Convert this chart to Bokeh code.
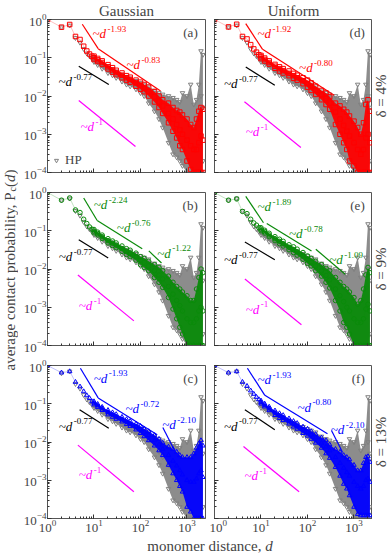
import math
from bokeh.plotting import figure
from bokeh.layouts import row, column
from bokeh.models import Range1d, Label, Legend, LegendItem, CustomJSTickFormatter
from bokeh.embed import file_html
from bokeh.resources import INLINE

FONT = "Liberation Serif"

# ---------------- data ----------------
D = [1, 2, 3, 4, 5, 6, 7, 8, 9, 10, 12, 15, 20, 25, 30, 40, 50, 60, 80, 100, 120, 150,
     200, 250, 300, 400, 500, 600, 700, 800, 1000, 1200, 1400, 1600, 1800, 2000, 2200]
BAND_D = D[9:]

# HP reference (grey), shared by all panels
HP_C = [1.0, 0.63, 0.70, 0.33, 0.25, 0.17, 0.13, 0.11, 0.095, 0.088,
        0.075, 0.062, 0.048, 0.042, 0.037, 0.030, 0.026, 0.023, 0.019, 0.016,
        0.014, 0.011, 0.008, 0.0055, 0.004, 0.0025, 0.0018, 0.0013, 0.001, 0.0009,
        0.0007, 0.0007, 0.0008, 0.001, 0.002, 0.01, 0.005]
HP_LO = [0.078, 0.065, 0.052, 0.040, 0.035, 0.030, 0.024, 0.020, 0.018, 0.015,
         0.012, 0.010, 0.0065, 0.004, 0.0025, 0.0015, 0.0006, 0.0003, 0.00025, 0.0002,
         0.00015, 0.0001, 0.0001, 0.0001, 0.0001, 0.0001, 0.0001, 0.0002]
HP_HI = [0.1, 0.085, 0.07, 0.056, 0.05, 0.044, 0.036, 0.032, 0.029, 0.025,
         0.022, 0.02, 0.018, 0.014, 0.012, 0.011, 0.01, 0.009, 0.008, 0.007,
         0.012, 0.01, 0.02, 0.006, 0.008, 0.02, 0.15, 0.12]

# Gaussian, delta = 4 %
GA4_C = [1.0, 0.63, 0.74, 0.36, 0.30, 0.20, 0.15, 0.125, 0.11, 0.10,
         0.088, 0.075, 0.058, 0.048, 0.041, 0.035, 0.030, 0.027, 0.022, 0.019,
         0.016, 0.013, 0.0095, 0.007, 0.0055, 0.0035, 0.0025, 0.0018, 0.0013, 0.001,
         0.0007, 0.0005, 0.0004, 0.0004, 0.0006, 0.0009, 0.0007]
GA4_LO = [0.09, 0.08, 0.067, 0.051, 0.042, 0.036, 0.030, 0.026, 0.023, 0.018,
          0.015, 0.013, 0.010, 0.007, 0.005, 0.0035, 0.002, 0.0012, 0.0008, 0.0005,
          0.0004, 0.0002, 0.00012, 0.0001, 0.0001, 0.0001, 0.0001, 0.0001]
GA4_HI = [0.11, 0.096, 0.083, 0.066, 0.055, 0.047, 0.040, 0.034, 0.031, 0.026,
          0.023, 0.020, 0.017, 0.013, 0.010, 0.008, 0.0065, 0.005, 0.0042, 0.0038,
          0.0032, 0.0025, 0.0018, 0.0015, 0.0025, 0.004, 0.005, 0.0045]

# Uniform, delta = 4 %
UN4_C = [1.0, 0.64, 0.75, 0.36, 0.31, 0.22, 0.17, 0.14, 0.12, 0.105,
         0.09, 0.075, 0.06, 0.052, 0.046, 0.039, 0.034, 0.030, 0.025, 0.021,
         0.018, 0.014, 0.011, 0.0085, 0.0065, 0.0038, 0.0025, 0.0017, 0.0012, 0.0009,
         0.0006, 0.0004, 0.0003, 0.0004, 0.0008, 0.001, 0.0006]
UN4_LO = [0.095, 0.082, 0.068, 0.053, 0.045, 0.040, 0.034, 0.029, 0.026, 0.021,
          0.017, 0.014, 0.011, 0.008, 0.006, 0.0045, 0.0018, 0.001, 0.0006, 0.0004,
          0.0002, 0.00015, 0.0001, 0.0001, 0.0001, 0.0001, 0.0001, 0.0001]
UN4_HI = [0.115, 0.098, 0.083, 0.067, 0.058, 0.052, 0.045, 0.039, 0.035, 0.030,
          0.026, 0.022, 0.018, 0.014, 0.012, 0.0095, 0.0065, 0.0055, 0.0045, 0.0038,
          0.003, 0.0022, 0.0015, 0.001, 0.002, 0.006, 0.008, 0.004]

# Gaussian, delta = 9 %
GA9_C = [1.0, 0.63, 0.72, 0.35, 0.30, 0.20, 0.155, 0.126, 0.11, 0.098,
         0.085, 0.07, 0.055, 0.047, 0.042, 0.034, 0.029, 0.026, 0.021, 0.017,
         0.015, 0.012, 0.009, 0.007, 0.0055, 0.0035, 0.0022, 0.0015, 0.0011, 0.0008,
         0.0005, 0.0004, 0.0004, 0.0005, 0.0008, 0.001, 0.0008]
GA9_LO = [0.088, 0.078, 0.063, 0.048, 0.041, 0.036, 0.029, 0.024, 0.021, 0.017,
          0.013, 0.011, 0.009, 0.006, 0.0045, 0.0033, 0.0018, 0.0009, 0.0005, 0.0003,
          0.0002, 0.0001, 0.0001, 0.0001, 0.0001, 0.0001, 0.0001, 0.0001]
GA9_HI = [0.108, 0.092, 0.077, 0.062, 0.054, 0.048, 0.040, 0.034, 0.031, 0.026,
          0.021, 0.019, 0.016, 0.013, 0.011, 0.009, 0.0065, 0.0045, 0.0035, 0.003,
          0.0025, 0.002, 0.0015, 0.0015, 0.003, 0.006, 0.01, 0.008]

# Uniform, delta = 9 %
UN9_C = [1.0, 0.63, 0.68, 0.32, 0.28, 0.20, 0.16, 0.14, 0.12, 0.11,
         0.095, 0.078, 0.062, 0.053, 0.046, 0.037, 0.032, 0.028, 0.022, 0.018,
         0.015, 0.012, 0.009, 0.0068, 0.0052, 0.003, 0.002, 0.0014, 0.001, 0.0008,
         0.0005, 0.0004, 0.0004, 0.0005, 0.0009, 0.0012, 0.0008]
UN9_LO = [0.1, 0.087, 0.07, 0.055, 0.046, 0.040, 0.032, 0.027, 0.023, 0.018,
          0.014, 0.012, 0.009, 0.0065, 0.0045, 0.0032, 0.0015, 0.0008, 0.0004, 0.0003,
          0.0002, 0.0001, 0.0001, 0.0001, 0.0001, 0.0001, 0.0001, 0.0001]
UN9_HI = [0.12, 0.103, 0.086, 0.07, 0.06, 0.053, 0.043, 0.038, 0.033, 0.027,
          0.022, 0.019, 0.016, 0.013, 0.0105, 0.009, 0.006, 0.0045, 0.0035, 0.003,
          0.0025, 0.0018, 0.0012, 0.0015, 0.003, 0.007, 0.011, 0.008]

# Gaussian, delta = 13 %
GA13_C = [1.0, 0.65, 0.70, 0.37, 0.28, 0.21, 0.165, 0.14, 0.115, 0.105,
          0.09, 0.075, 0.06, 0.052, 0.046, 0.039, 0.034, 0.030, 0.025, 0.021,
          0.018, 0.015, 0.011, 0.0085, 0.0065, 0.0045, 0.0032, 0.0024, 0.0018, 0.0014,
          0.001, 0.0009, 0.0009, 0.0011, 0.0015, 0.0018, 0.0012]
GA13_LO = [0.095, 0.082, 0.068, 0.052, 0.045, 0.040, 0.034, 0.029, 0.026, 0.021,
           0.017, 0.014, 0.011, 0.008, 0.006, 0.0045, 0.0025, 0.0015, 0.001, 0.0007,
           0.0005, 0.0002, 0.00015, 0.0001, 0.0001, 0.0001, 0.0001, 0.0001]
GA13_HI = [0.115, 0.098, 0.082, 0.068, 0.059, 0.053, 0.045, 0.039, 0.035, 0.030,
           0.026, 0.022, 0.019, 0.015, 0.012, 0.0095, 0.0075, 0.0065, 0.0055, 0.0045,
           0.004, 0.004, 0.004, 0.005, 0.007, 0.009, 0.011, 0.008]

# Uniform, delta = 13 %
UN13_C = [1.0, 0.65, 0.70, 0.37, 0.29, 0.22, 0.18, 0.15, 0.13, 0.11,
          0.092, 0.075, 0.058, 0.049, 0.043, 0.035, 0.030, 0.026, 0.021, 0.018,
          0.0155, 0.013, 0.0095, 0.0075, 0.006, 0.004, 0.0028, 0.0021, 0.0016, 0.0013,
          0.0009, 0.0007, 0.0006, 0.0007, 0.001, 0.0011, 0.0009]
UN13_LO = [0.1, 0.084, 0.067, 0.05, 0.042, 0.037, 0.030, 0.025, 0.022, 0.017,
           0.0145, 0.012, 0.0095, 0.007, 0.005, 0.0038, 0.0022, 0.0013, 0.0008, 0.0006,
           0.0004, 0.0002, 0.00013, 0.00012, 0.00012, 0.00012, 0.00012, 0.00012]
UN13_HI = [0.12, 0.1, 0.083, 0.066, 0.056, 0.05, 0.041, 0.035, 0.031, 0.025,
           0.022, 0.019, 0.016, 0.013, 0.011, 0.0085, 0.0065, 0.0055, 0.0045, 0.004,
           0.0035, 0.0025, 0.0018, 0.0018, 0.0028, 0.004, 0.0042, 0.003]

# fitted power laws: segments (d0, P0, d1, P1) and their exponents
FITS = {
    "a": [(5.6, 0.75, 12.3, 0.173), (12.3, 0.173, 270, 0.0135)],
    "d": [(4.7, 0.78, 10.8, 0.166), (10.8, 0.166, 375, 0.0105)],
    "b": [(6.0, 0.72, 11.7, 0.186), (11.7, 0.186, 109, 0.034), (151, 0.0297, 283, 0.0143)],
    "e": [(4.7, 0.79, 11.3, 0.162), (13.3, 0.155, 122, 0.0297), (151, 0.0328, 646, 0.0073)],
    "c": [(5.1, 0.85, 12.3, 0.142), (12.3, 0.142, 229, 0.0155), (302, 0.024, 540, 0.006)],
    "f": [(5.1, 0.85, 12.1, 0.166), (12.1, 0.166, 269, 0.0164), (328, 0.02, 566, 0.0054)],
}
EXPONENTS = {
    "a": ["-1.93", "-0.83"], "d": ["-1.92", "-0.80"],
    "b": ["-2.24", "-0.76", "-1.22"], "e": ["-1.89", "-0.78", "-1.09"],
    "c": ["-1.93", "-0.72", "-2.10"], "f": ["-1.93", "-0.80", "-2.10"],
}
REF_077 = {"a": (4.7, 0.06, 20.8, 0.02), "d": (4.7, 0.0575, 19.8, 0.019),
           "b": (4.7, 0.0585, 20.2, 0.0195), "e": (4.5, 0.051, 19.8, 0.0174),
           "c": (4.9, 0.07, 20.8, 0.0228), "f": (4.5, 0.07, 19.8, 0.021)}
REF_1 = {"a": (4.7, 0.0076, 78, 0.00048), "d": (4.4, 0.0071, 72, 0.00045),
         "b": (4.5, 0.007, 72, 0.00044), "e": (4.5, 0.0055, 74, 0.00035),
         "c": (4.5, 0.0083, 72, 0.0005), "f": (4.2, 0.0076, 66, 0.0005)}

# annotation positions (data coordinates of the text baseline start)
EXP_POS = {
    "a": [(9.3, 0.33), (50, 0.052)], "d": [(8.4, 0.33), (66, 0.043)],
    "b": [(9.9, 0.37), (31, 0.095), (229, 0.02)], "e": [(8.4, 0.33), (40, 0.064), (293, 0.0138)],
    "c": [(9.9, 0.36), (47.6, 0.057), (293, 0.022)], "f": [(8.4, 0.33), (61, 0.063), (317, 0.0164)],
}
REF_077_POS = {"a": (1.73, 0.018), "d": (1.6, 0.0164), "b": (1.75, 0.0166),
               "e": (1.6, 0.0138), "c": (1.75, 0.02), "f": (1.6, 0.02)}
REF_1_POS = {"a": (5.1, 0.0012), "d": (4.7, 0.0009), "b": (4.7, 0.00083),
             "e": (4.7, 0.00069), "c": (4.7, 0.0011), "f": (4.4, 0.001)}

SERIES = {
    "a": (GA4_C, GA4_LO, GA4_HI, "#ff0000", "square"),
    "d": (UN4_C, UN4_LO, UN4_HI, "#ff0000", "square"),
    "b": (GA9_C, GA9_LO, GA9_HI, "#0a8a0a", "circle"),
    "e": (UN9_C, UN9_LO, UN9_HI, "#0a8a0a", "circle"),
    "c": (GA13_C, GA13_LO, GA13_HI, "#0000ff", "triangle"),
    "f": (UN13_C, UN13_LO, UN13_HI, "#0000ff", "triangle"),
}
GRID = [["a", "d"], ["b", "e"], ["c", "f"]]
COL_TITLES = ["Gaussian", "Uniform"]
ROW_LABELS = ["\u03b4 = 4%", "\u03b4 = 9%", "\u03b4 = 13%"]

GREY = "#808080"
# layout (pixels)
FW, FH = 158, 153
YLAB_W, DLAB_W, FOOT_H = 18, 17, 18
LEFT_B, MID_R, MID_L = 29, 4, 5
ROW_B = [(19, 10), (10, 10), (10, 18)]    # (top, bottom) border for each row
MID = 0.3375                               # (ascent - descent) / 2 of the serif font, in em


def pl_label(p, d, P, exp, color):
    p.add_layout(Label(x=d, y=P, y_offset=MID * 13, text="~d", text_font=FONT,
                       text_font_style="italic", text_font_size="13px", text_color=color,
                       text_baseline="middle"))
    p.add_layout(Label(x=d, y=P, x_offset=15, y_offset=6 + MID * 9, text=exp, text_font=FONT,
                       text_font_size="9px", text_color=color, text_baseline="middle"))


def make_panel(key, ri, ci):
    C, LO, HI, color, marker = SERIES[key]
    left, top, bottom = ci == 0, ri == 0, ri == 2
    bl = LEFT_B if left else MID_L
    br = MID_R if left else 0
    bt, bb = ROW_B[ri]
    p = figure(x_axis_type="log", y_axis_type="log",
               x_range=Range1d(1, 2500), y_range=Range1d(1e-4, 1),
               width=bl + FW + br, height=bt + FH + bb,
               min_border_left=bl, min_border_right=br,
               min_border_top=bt, min_border_bottom=bb,
               output_backend="svg", toolbar_location=None)
    if top:
        p.title.text = COL_TITLES[ci]
        p.title.align = "center"
        p.title.text_font = FONT
        p.title.text_font_size = "15px"
        p.title.text_font_style = "normal"
        p.title.standoff = 1
        p.title.offset = 0
    p.grid.visible = False
    p.outline_line_color = "#555555"
    p.background_fill_color = "white"
    for ax in (p.xaxis[0], p.yaxis[0]):
        ax.axis_line_color = "#555555"
        ax.major_tick_line_color = "#333333"
        ax.minor_tick_line_color = "#333333"
        ax.major_tick_in, ax.major_tick_out = 4, 0
        ax.minor_tick_in, ax.minor_tick_out = 2, 0
        ax.major_label_text_font = FONT
        ax.major_label_text_font_size = "13px"
        ax.major_label_standoff = 1
    if not bottom:
        p.xaxis.formatter = CustomJSTickFormatter(code="return ''")
        p.xaxis.major_label_standoff = 0
        p.xaxis.major_label_text_font_size = "0px"
    if not left:
        p.yaxis.formatter = CustomJSTickFormatter(code="return ''")
        p.yaxis.major_label_standoff = 0
        p.yaxis.major_label_text_font_size = "0px"

    # HP reference cloud
    p.varea(x=BAND_D, y1=HP_LO, y2=HP_HI, fill_color=GREY, fill_alpha=0.9)
    hp = p.scatter(D, HP_C, marker="inverted_triangle", size=4.5, line_color=GREY,
                   fill_color=None, line_width=1)
    p.scatter(BAND_D, HP_LO, marker="inverted_triangle", size=4.5, line_color=GREY,
              fill_color=None)
    p.scatter(BAND_D, HP_HI, marker="inverted_triangle", size=4.5, line_color=GREY,
              fill_color=None)

    # heterogeneous-polymer series
    p.line(D, C, line_color=color, line_alpha=0.25, line_width=1)
    p.varea(x=BAND_D, y1=LO, y2=HI, fill_color=color, fill_alpha=0.95)
    p.scatter(D, C, marker=marker, size=4.5, line_color=color, fill_color=None, line_width=1)
    p.scatter(BAND_D, LO, marker=marker, size=4.5, line_color=color, fill_color=None)
    p.scatter(BAND_D, HI, marker=marker, size=4.5, line_color=color, fill_color=None)

    # fits
    for (d0, p0, d1, p1), exp, (lx, ly) in zip(FITS[key], EXPONENTS[key], EXP_POS[key]):
        p.line([d0, d1], [p0, p1], line_color=color, line_width=1.2)
        pl_label(p, lx, ly, exp, color)
    d0, p0, d1, p1 = REF_077[key]
    p.line([d0, d1], [p0, p1], line_color="black", line_width=1.2)
    pl_label(p, *REF_077_POS[key], "-0.77", "black")
    d0, p0, d1, p1 = REF_1[key]
    p.line([d0, d1], [p0, p1], line_color="#ff00ff", line_width=1.2)
    pl_label(p, *REF_1_POS[key], "-1", "#ff00ff")

    p.add_layout(Label(x=1700, y=0.35, y_offset=MID * 13, text="(%s)" % key, text_font=FONT,
                       text_font_size="13px", text_align="right", text_baseline="middle"))
    if key == "a":
        legend = Legend(items=[LegendItem(label="HP", renderers=[hp])], location="bottom_left",
                        background_fill_alpha=0, border_line_color=None,
                        label_text_font=FONT, label_text_font_size="13px",
                        glyph_width=10, glyph_height=10, padding=2, margin=4,
                        label_standoff=4, spacing=0)
        p.add_layout(legend)
    return p


def blank(w, h):
    f = figure(width=w, height=h, x_range=Range1d(0, w), y_range=Range1d(h, 0),
               min_border=0, x_axis_location=None, y_axis_location=None,
               output_backend="svg", toolbar_location=None)
    f.outline_line_color = None
    f.grid.visible = False
    return f


panels = [[make_panel(GRID[r][c], r, c) for c in range(2)] for r in range(3)]

left_w = LEFT_B + FW + MID_R
right_w = MID_L + FW
row_h = [t + FH + b for t, b in ROW_B]
total_h = sum(row_h) + FOOT_H
centers = []
acc = 0
for (t, b), h in zip(ROW_B, row_h):
    centers.append(acc + t + FH / 2)
    acc += h

# y-axis title (pieces along the rotated baseline)
ylab = blank(YLAB_W, total_h)
yc = centers[1] + 1
mid_x = YLAB_W / 2
pieces = [("average contact probability, P", "normal", 15, 179.1, 0.0),
          ("c", "normal", 10, 4.4, 1.5),
          ("(", "normal", 15, 5.0, 0.0),
          ("d", "italic", 15, 7.5, 0.0),
          (")", "normal", 15, 5.0, 0.0)]
base_x = mid_x + MID * 15
total_len = sum(pc[3] for pc in pieces)
y0 = yc + total_len / 2
for txt, style, size, wlen, shift in pieces:
    ylab.add_layout(Label(x=base_x + shift - MID * size, y=y0, text=txt, angle=math.pi / 2,
                          text_font=FONT, text_font_style=style, text_font_size="%dpx" % size,
                          text_align="left", text_baseline="middle"))
    y0 -= wlen

# x-axis title
foot = blank(left_w + right_w, FOOT_H)
xc = LEFT_B + FW + (MID_R + MID_L) / 2
w1, w2 = 117.9, 7.5
x0 = xc - (w1 + w2) / 2
foot.add_layout(Label(x=x0, y=FOOT_H / 2, text="monomer distance, ", text_font=FONT,
                      text_font_size="15px", text_baseline="middle"))
foot.add_layout(Label(x=x0 + w1, y=FOOT_H / 2, text="d", text_font=FONT,
                      text_font_style="italic", text_font_size="15px", text_baseline="middle"))

# row labels
dlab = blank(DLAB_W, total_h)
for cy, txt in zip(centers, ROW_LABELS):
    dlab.add_layout(Label(x=DLAB_W / 2, y=cy, text=txt, angle=math.pi / 2, text_font=FONT,
                          text_font_size="15px", text_align="center",
                          text_baseline="middle"))

grid = column(row(panels[0][0], panels[0][1]), row(panels[1][0], panels[1][1]),
              row(panels[2][0], panels[2][1]), foot)
layout = row(ylab, grid, dlab)

open("out.html", "w").write(file_html(layout, INLINE))
